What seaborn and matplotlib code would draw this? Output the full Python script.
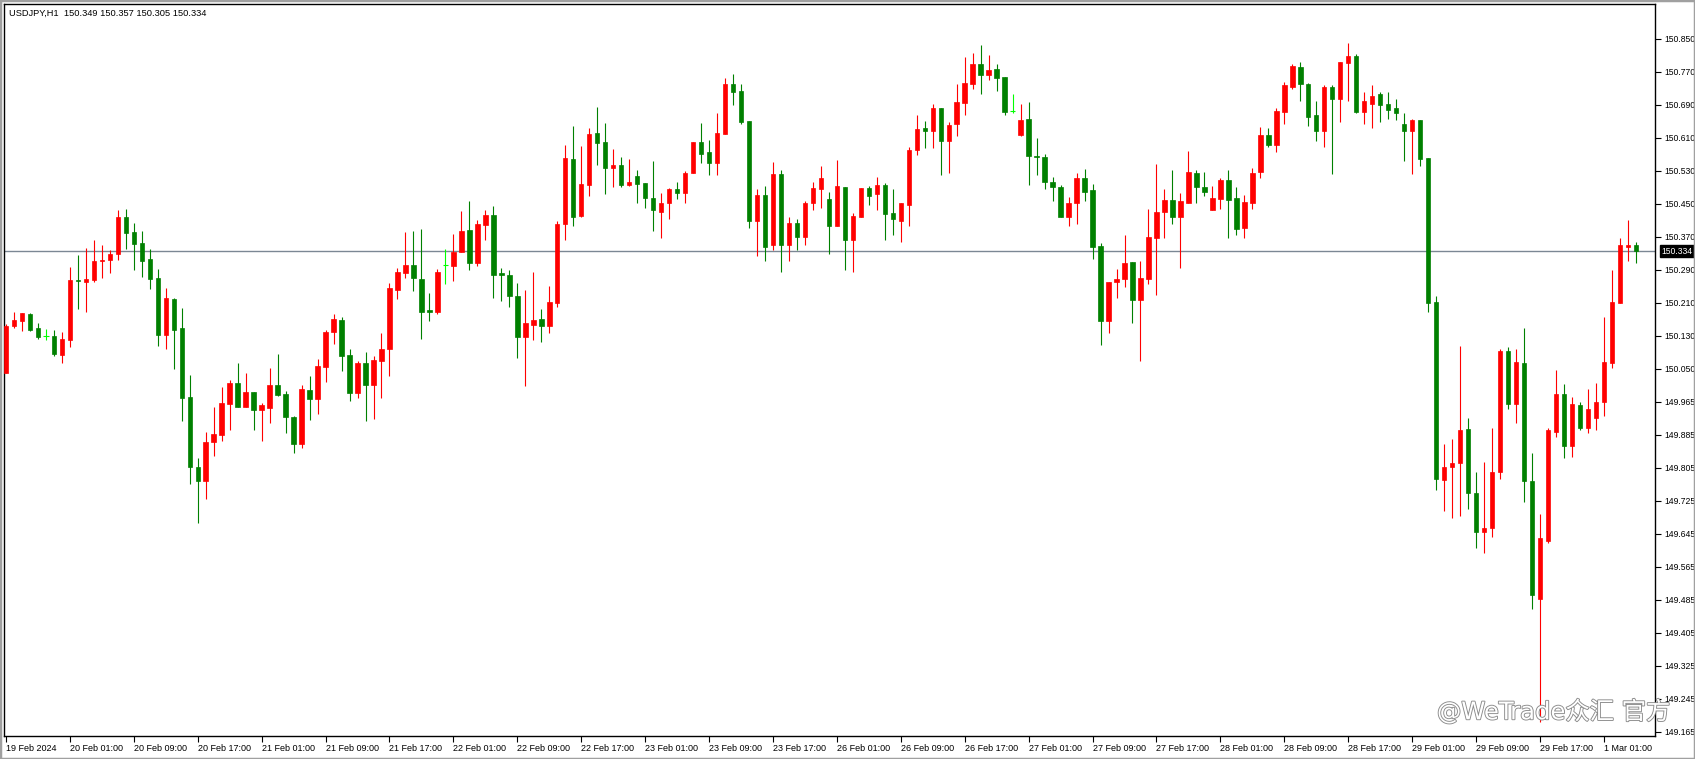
import numpy as np
import pandas as pd
import matplotlib
matplotlib.use("Agg")
import matplotlib.pyplot as plt
import matplotlib.transforms as mtransforms
from matplotlib import patheffects
from matplotlib.patches import Rectangle
import seaborn as sns

sns.set_theme(style="white")
plt.rcParams["font.family"] = ["Liberation Sans", "DejaVu Sans", "Noto Sans CJK SC"]

# ---------------- data (USDJPY H1) ----------------
open_ = [150.037,150.151,150.163,150.181,150.147,150.127,150.128,150.082,150.119,150.264,
150.260,150.264,150.310,150.313,150.328,150.417,150.381,150.354,150.315,150.269,
150.131,150.218,150.147,149.980,149.809,149.776,149.869,149.887,149.963,150.014,
149.955,149.992,149.948,149.953,150.009,149.987,149.931,149.865,149.997,149.975,
150.052,150.138,150.167,150.082,149.989,150.062,150.009,150.067,150.096,150.240,
150.281,150.300,150.267,150.191,150.185,150.300,150.297,150.331,150.386,150.304,
150.398,150.422,150.282,150.276,150.225,150.126,150.155,150.169,150.151,150.207,
150.399,150.558,150.420,150.496,150.621,150.600,150.535,150.544,150.496,150.517,
150.500,150.463,150.430,150.450,150.485,150.476,150.523,150.600,150.575,150.549,
150.620,150.741,150.724,150.651,150.408,150.471,150.348,150.522,150.350,150.403,
150.369,150.450,150.484,150.461,150.396,150.490,150.362,150.418,150.488,150.472,
150.495,150.427,150.408,150.447,150.579,150.634,150.625,150.682,150.603,150.642,
150.695,150.741,150.789,150.763,150.777,150.758,150.674,150.617,150.656,150.566,
150.563,150.502,150.490,150.416,150.452,150.512,150.483,150.347,150.163,150.258,
150.267,150.308,150.216,150.267,150.365,150.430,150.459,150.416,150.452,150.524,
150.490,150.435,150.462,150.507,150.463,150.391,150.452,150.527,150.617,150.593,
150.673,150.734,150.782,150.741,150.664,150.625,150.734,150.705,150.792,150.809,
150.673,150.693,150.715,150.693,150.681,150.644,150.627,150.654,150.560,150.211,
149.777,149.808,149.818,149.901,149.746,149.650,149.660,149.798,150.090,149.963,
150.063,149.774,149.487,149.630,149.895,149.987,149.861,149.961,149.905,149.929,
149.966,150.061,150.209,150.345,150.349]

high = [150.157,150.186,150.184,150.184,150.159,150.144,150.142,150.138,150.296,150.325,
150.342,150.361,150.348,150.338,150.434,150.437,150.403,150.383,150.339,150.291,
150.245,150.220,150.196,150.033,149.832,149.894,149.955,150.004,150.021,150.062,
150.038,149.992,149.965,150.050,150.084,149.994,149.933,150.009,150.031,150.072,
150.142,150.181,150.174,150.096,150.067,150.089,150.079,150.135,150.257,150.293,
150.381,150.383,150.388,150.232,150.291,150.339,150.376,150.432,150.456,150.410,
150.434,150.444,150.294,150.288,150.257,150.240,150.284,150.194,150.249,150.408,
150.592,150.639,150.590,150.634,150.685,150.646,150.583,150.563,150.558,150.532,
150.500,150.553,150.476,150.488,150.502,150.529,150.600,150.646,150.604,150.670,
150.755,150.765,150.741,150.651,150.485,150.493,150.551,150.532,150.417,150.412,
150.456,150.502,150.541,150.478,150.556,150.490,150.427,150.488,150.493,150.515,
150.500,150.485,150.451,150.587,150.665,150.651,150.692,150.682,150.648,150.741,
150.806,150.816,150.835,150.811,150.789,150.758,150.716,150.692,150.697,150.609,
150.570,150.514,150.495,150.466,150.524,150.534,150.497,150.353,150.259,150.291,
150.373,150.308,150.310,150.437,150.546,150.485,150.532,150.476,150.578,150.532,
150.527,150.493,150.512,150.532,150.490,150.471,150.536,150.637,150.634,150.681,
150.746,150.789,150.794,150.744,150.698,150.737,150.737,150.794,150.840,150.814,
150.720,150.737,150.720,150.720,150.705,150.671,150.656,150.654,150.560,150.224,
149.864,149.878,150.104,149.929,149.798,149.822,149.903,150.097,150.100,150.095,
150.148,149.842,149.696,149.903,150.044,150.012,149.980,149.966,150.000,150.014,
150.175,150.287,150.365,150.410,150.357]

low = [150.037,150.146,150.141,150.141,150.121,150.118,150.078,150.063,150.100,150.194,
150.185,150.260,150.269,150.282,150.313,150.340,150.289,150.270,150.243,150.104,
150.097,150.048,149.922,149.769,149.674,149.732,149.837,149.873,149.898,149.955,
149.955,149.898,149.873,149.917,149.982,149.893,149.842,149.856,149.924,149.939,
150.016,150.109,150.043,149.970,149.977,149.922,149.927,149.977,150.031,150.218,
150.269,150.237,150.121,150.165,150.180,150.255,150.262,150.331,150.289,150.299,
150.360,150.221,150.214,150.197,150.075,150.007,150.117,150.112,150.136,150.197,
150.362,150.396,150.416,150.469,150.544,150.472,150.489,150.489,150.493,150.452,
150.438,150.382,150.365,150.413,150.462,150.450,150.523,150.549,150.518,150.518,
150.620,150.690,150.644,150.391,150.323,150.311,150.338,150.284,150.309,150.338,
150.348,150.435,150.440,150.326,150.396,150.289,150.284,150.418,150.447,150.433,
150.360,150.374,150.357,150.396,150.569,150.586,150.586,150.518,150.525,150.615,
150.664,150.729,150.715,150.751,150.724,150.666,150.670,150.613,150.496,150.518,
150.484,150.455,150.416,150.396,150.399,150.455,150.316,150.106,150.134,150.220,
150.248,150.160,150.066,150.255,150.228,150.365,150.399,150.293,150.450,150.450,
150.469,150.435,150.437,150.365,150.374,150.365,150.437,150.511,150.588,150.574,
150.644,150.729,150.698,150.639,150.603,150.588,150.521,150.649,150.700,150.671,
150.644,150.634,150.647,150.656,150.654,150.553,150.521,150.540,150.187,149.753,
149.703,149.684,149.689,149.706,149.613,149.601,149.640,149.779,149.951,149.915,
149.723,149.465,149.188,149.625,149.883,149.830,149.834,149.898,149.893,149.900,
149.934,150.051,150.209,150.309,150.305]

close = [150.152,150.167,150.184,150.143,150.126,150.127,150.085,150.121,150.264,150.261,
150.266,150.310,150.313,150.327,150.417,150.379,150.352,150.309,150.267,150.131,
150.220,150.143,149.978,149.808,149.776,149.870,149.890,149.965,150.014,149.955,
149.992,149.948,149.960,150.009,149.984,149.931,149.865,149.999,149.975,150.055,
150.138,150.169,150.079,149.989,150.062,150.009,150.069,150.096,150.245,150.283,
150.300,150.269,150.187,150.185,150.284,150.300,150.332,150.383,150.304,150.400,
150.422,150.277,150.275,150.224,150.126,150.160,150.167,150.153,150.211,150.400,
150.561,150.418,150.497,150.619,150.598,150.535,150.544,150.496,150.502,150.498,
150.464,150.433,150.451,150.485,150.476,150.524,150.600,150.571,150.549,150.622,
150.741,150.722,150.649,150.408,150.471,150.345,150.522,150.350,150.403,150.369,
150.451,150.488,150.512,150.396,150.493,150.362,150.420,150.488,150.469,150.495,
150.425,150.411,150.451,150.580,150.631,150.625,150.682,150.603,150.641,150.697,
150.743,150.789,150.763,150.775,150.756,150.673,150.674,150.653,150.566,150.562,
150.503,150.489,150.416,150.451,150.512,150.479,150.345,150.163,150.259,150.266,
150.305,150.216,150.269,150.369,150.429,150.459,150.416,150.456,150.527,150.489,
150.479,150.463,150.507,150.459,150.389,150.454,150.524,150.617,150.593,150.676,
150.737,150.784,150.741,150.661,150.627,150.734,150.705,150.794,150.809,150.673,
150.698,150.712,150.690,150.678,150.671,150.627,150.654,150.557,150.209,149.780,
149.808,149.820,149.900,149.745,149.650,149.662,149.798,150.090,149.963,150.065,
149.774,149.499,149.637,149.898,149.987,149.861,149.963,149.905,149.949,149.968,
150.065,150.211,150.350,150.348,150.334]

date_labels = ["19 Feb 2024", "20 Feb 01:00", "20 Feb 09:00", "20 Feb 17:00",
               "21 Feb 01:00", "21 Feb 09:00", "21 Feb 17:00", "22 Feb 01:00",
               "22 Feb 09:00", "22 Feb 17:00", "23 Feb 01:00", "23 Feb 09:00",
               "23 Feb 17:00", "26 Feb 01:00", "26 Feb 09:00", "26 Feb 17:00",
               "27 Feb 01:00", "27 Feb 09:00", "27 Feb 17:00", "28 Feb 01:00",
               "28 Feb 09:00", "28 Feb 17:00", "29 Feb 01:00", "29 Feb 09:00",
               "29 Feb 17:00", "1 Mar 01:00"]
price_labels = ["150.850", "150.770", "150.690", "150.610", "150.530", "150.450",
                "150.370", "150.290", "150.210", "150.130", "150.050", "149.965",
                "149.885", "149.805", "149.725", "149.645", "149.565", "149.485",
                "149.405", "149.325", "149.245", "149.165"]
last_price = 150.334
title_text = "USDJPY,H1  150.349 150.357 150.305 150.334"
watermark = "@WeTrade众汇 官方"

# ---------------- build frame ----------------
df = pd.DataFrame({"open": open_, "high": high, "low": low, "close": close})
df["idx"] = np.arange(len(df))
UP, DOWN, DOJI = "#ff0000", "#008000", "#00ff00"
df["color"] = np.where(df["close"] > df["open"], UP,
                       np.where(df["close"] < df["open"], DOWN, DOJI))
df["body_lo"] = df[["open", "close"]].min(axis=1)
df["body_h"] = (df["close"] - df["open"]).abs()

W, H = 1695, 759
fig = plt.figure(figsize=(W / 100, H / 100), dpi=100)
fig.patch.set_facecolor("white")
ax = fig.add_axes([4 / W, 23 / H, 1651 / W, 732 / H])
ax.set_facecolor("white")

# wicks
ax.vlines(df["idx"], df["low"], df["high"], colors=df["color"], linewidth=0.8, zorder=2)
# bodies
body = df[df["color"] != DOJI]
ax.bar(body["idx"], body["body_h"], bottom=body["body_lo"], width=0.56,
       color=body["color"], edgecolor=body["color"], linewidth=0.5, zorder=3)
doji = df[df["color"] == DOJI]
ax.hlines(doji["open"], doji["idx"] - 0.32, doji["idx"] + 0.32, colors=DOJI,
          linewidth=0.8, zorder=3)

# last price line
ax.axhline(last_price, color="#7b8794", linewidth=1.0, zorder=1)

ax.set_xlim(-0.25, 206.4)
ax.set_ylim(149.155, 150.935)

# y axis on the right
ypos = np.linspace(150.850, 149.165, len(price_labels))
ax.yaxis.tick_right()
ax.set_yticks(ypos)
ax.set_yticklabels(price_labels)
ax.tick_params(axis="y", direction="out", length=4, width=0.8, labelsize=6.2,
               pad=3, colors="black", right=True, left=False)

# x axis
xpos = np.arange(0, 8 * len(date_labels), 8)
ax.set_xticks(xpos)
ax.set_xticklabels(date_labels, ha="left")
ax.tick_params(axis="x", direction="out", length=4, width=0.8, labelsize=6.5,
               pad=2, colors="black", bottom=True)
for lbl in ax.get_xticklabels():
    lbl.set_horizontalalignment("left")

for s in ax.spines.values():
    s.set_color("black")
    s.set_linewidth(1.0)
ax.grid(False)

# current price label on axis
trans = mtransforms.blended_transform_factory(ax.transAxes, ax.transData)
ax.text(1.004, last_price, "150.334", transform=trans, ha="left", va="center",
        fontsize=6.2, color="white", zorder=10, clip_on=False,
        bbox=dict(boxstyle="square,pad=0.15", facecolor="black", edgecolor="black"))

# title
fig.text(9 / W, 1 - 13 / H, title_text, fontsize=6.7, color="black",
         ha="left", va="center")

# watermark
fig.text(1437 / W, 1 - 712 / H, watermark, fontsize=17.5, color="white",
         ha="left", va="center", zorder=20,
         family=["DejaVu Sans", "Noto Sans CJK SC"],
         path_effects=[patheffects.withStroke(linewidth=1.3, foreground="#8a8a8a")])

# outer window frame
fig.patches.append(Rectangle((0, 0), 1, 1, transform=fig.transFigure, fill=False,
                             edgecolor="#a0a0a0", linewidth=2.5, zorder=0))

fig.savefig("out.png", dpi=100, facecolor="white")
